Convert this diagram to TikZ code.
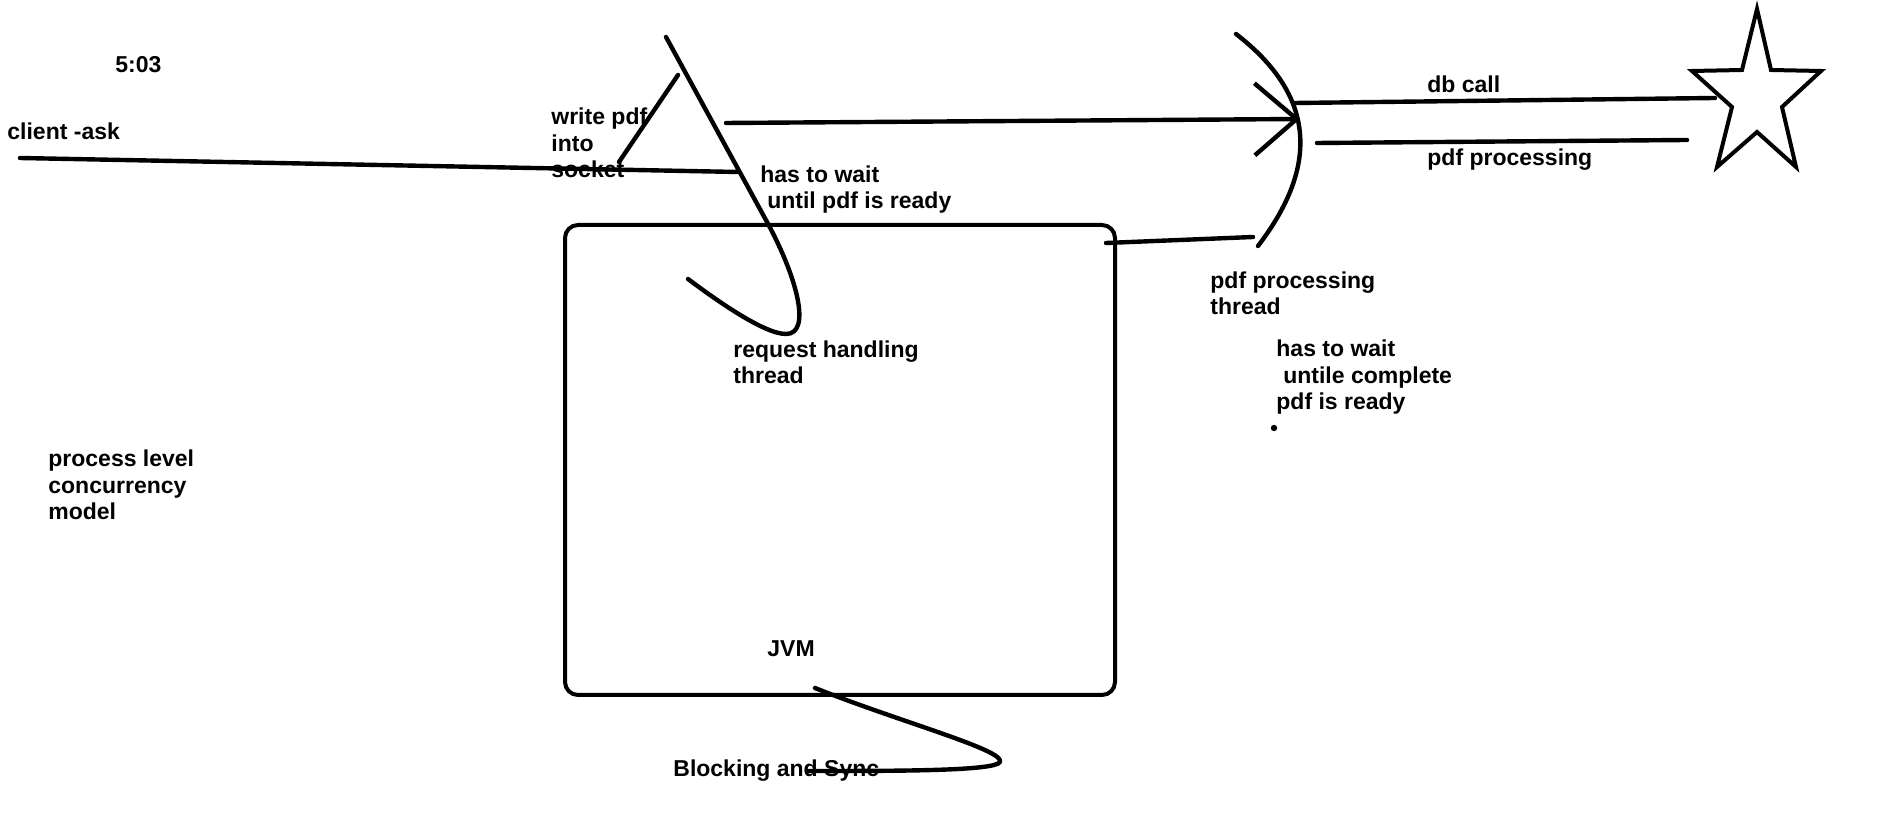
\documentclass[tikz,border=0pt]{standalone}
\usepackage{fontspec}
\setmainfont{Liberation Sans}
\usetikzlibrary{arrows.meta}

\begin{document}
\begin{tikzpicture}[x=0.5pt, y=-0.5pt]
	\tikzset{texte/.style={anchor=base west, inner sep=0pt, align=left, font=\bfseries\fontsize{11.5}{13.25}\selectfont}, trait/.style={line width=2.2pt, line cap=round, line join=round}, fleche/.style={trait, -{Straight Barb[length=21pt, width=36pt]}}};

	\useasboundingbox (0,0) rectangle (1901,822);

	% textes (base = derniere ligne)
	\node[texte] (heure)      at ( 115,  73) {5:03};
	\node[texte] (client)     at (   7, 140) {client -ask};
	\node[texte] (ecrire)     at ( 551, 178) {write pdf\\into\\socket};
	\node[texte] (attente)    at ( 760, 209) {has to wait\\\hspace*{0.3em}until pdf is ready};
	\node[texte] (requete)    at ( 733, 384) {request handling\\thread};
	\node[texte] (appel)      at (1427,  93) {db call};
	\node[texte] (traitement) at (1427, 166) {pdf processing};
	\node[texte] (filpdf)     at (1210, 315) {pdf processing\\thread};
	\node[texte] (attente2)   at (1276, 410) {has to wait\\\hspace*{0.3em}untile complete\\pdf is ready};
	\node[texte] (modele)     at (  48, 520) {process level\\concurrency\\model};
	\node[texte] (jvm)        at ( 767, 657) {JVM};
	\node[texte] (bloquant)   at ( 673, 777) {Blocking and Sync};

	% points
	\coordinate (c1) at (  20, 158);
	\coordinate (c2) at ( 738, 172);
	\coordinate (s1) at ( 678,  75);
	\coordinate (s2) at ( 619, 162);
	\coordinate (r1) at ( 666,  37);
	\coordinate (r2) at ( 767, 222);
	\coordinate (r3) at ( 786, 334);
	\coordinate (r4) at ( 688, 279);
	\coordinate (a1) at ( 726, 123);
	\coordinate (a2) at (1300, 119);
	\coordinate (p1) at (1236,  34);
	\coordinate (p2) at (1258, 246);
	\coordinate (d1) at (1295, 103);
	\coordinate (d2) at (1715,  98);
	\coordinate (t1) at (1317, 143);
	\coordinate (t2) at (1687, 140);
	\coordinate (j1) at (1106, 243);
	\coordinate (j2) at (1253, 237);
	\coordinate (b1) at ( 815, 688);
	\coordinate (b2) at (1000, 762);
	\coordinate (b3) at ( 807, 771);

	% JVM
	\draw[line width=2pt, rounded corners=6.5pt] (565,225) rectangle (1115,695);

	\draw[trait] (c1) -- (c2);
	\draw[trait] (s1) -- (s2);
	\draw[trait] (r1) -- (r2) .. controls (797,277) and (812,334) .. (r3) .. controls (765,334) and (720,303) .. (r4);
	\draw[fleche] (a1) -- (a2);
	\draw[trait] (p1) .. controls (1315,95) and (1320,165) .. (p2);
	\draw[trait] (d1) -- (d2);
	\draw[trait] (t1) -- (t2);
	\draw[trait] (j1) -- (j2);
	\draw[trait] (b1) .. controls (900,722) and (1005,750) .. (b2) .. controls (995,771) and (900,771) .. (b3);
	\fill (1274,428) circle (1.6pt);

	% etoile
	\draw[line width=2pt, line join=miter] (1757,9) -- (1771,70) -- (1821,71) -- (1782,107) -- (1796,167) -- (1757,132) -- (1717,167) -- (1732,107) -- (1692,71) -- (1742,70) -- cycle;

\end{tikzpicture}
\end{document}
